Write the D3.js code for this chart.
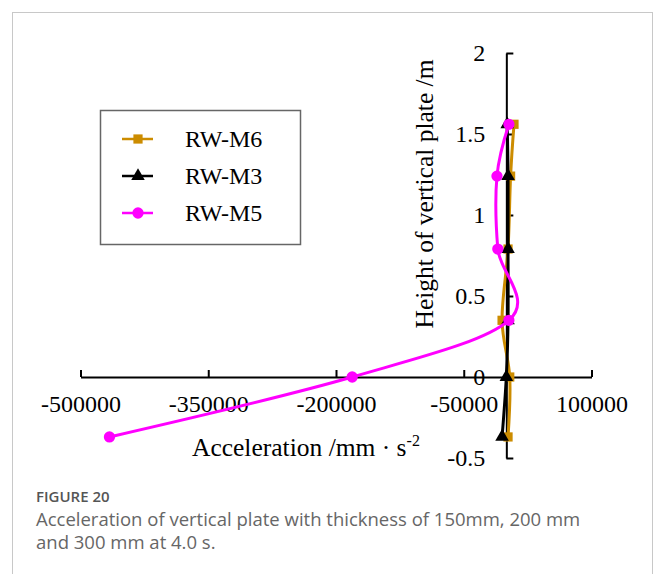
<!DOCTYPE html>
<html>
<head>
<meta charset="utf-8">
<script src="https://cdn.jsdelivr.net/npm/d3@7"></script>
<style>
  html, body { margin: 0; padding: 0; background: #fff; }
  svg { display: block; }
</style>
</head>
<body>
<script>
// ---- data ----
const heights = [-0.37, 0, 0.35, 0.79, 1.24, 1.56];
const seriesNames = ["RW-M6", "RW-M3", "RW-M5"];
const valuesM6 = [2000, 4000, -5000, 2000, 5000, 9000];
const valuesM3 = [-5000, 0, 2000, 2000, 2000, 1000];
const valuesM5 = [-466000, -181000, 3000, -10000, -11000, 3000];
const xTicks = [-500000, -350000, -200000, -50000, 100000];
const yTicks = [-0.5, 0, 0.5, 1, 1.5, 2];
const xTitle = "Acceleration /mm · s";
const xTitleSup = "-2";
const yTitle = "Height of vertical plate /m";
const captionHead = "FIGURE 20";
const captionLines = ["Acceleration of vertical plate with thickness of 150mm, 200 mm", "and 300 mm at 4.0 s."];

const W = 656, H = 574;
const svg = d3.select("body").append("svg").attr("width", W).attr("height", H);
svg.append("rect").attr("width", W).attr("height", H).attr("fill", "#fff");
// outer frame
svg.append("rect").attr("x", 12.5).attr("y", 12.5).attr("width", 640).attr("height", 600)
  .attr("fill", "none").attr("stroke", "#c8c8c8").attr("stroke-width", 1);

const x = d3.scaleLinear().domain([-500000, 100000]).range([80.5, 591.5]);
const y = d3.scaleLinear().domain([-0.5, 2]).range([458, 53]);
const serif = "'Liberation Serif','Times New Roman',serif";
const fs = 24;
const fsTitle = 25.5;

// x axis at y=0
const xAxis = d3.axisBottom(x).tickValues(xTicks).tickFormat(d => String(d))
  .tickSizeInner(-7).tickSizeOuter(0).tickPadding(18);
const gx = svg.append("g").attr("transform", `translate(0,${y(0)})`).call(xAxis);
// y axis at x=0
const yAxis = d3.axisLeft(y).tickValues(yTicks).tickFormat(d => String(d))
  .tickSizeInner(-7).tickSizeOuter(0).tickPadding(21);
const gy = svg.append("g").attr("transform", `translate(${x(0)},0)`).call(yAxis);
[gx, gy].forEach(g => {
  g.selectAll("path,line").attr("stroke", "#000").attr("stroke-width", 2);
  g.selectAll("text").attr("font-family", serif).attr("font-size", fs).attr("fill", "#000");
});

// axis titles
const xt = svg.append("text").attr("x", 192).attr("y", 456)
  .attr("font-family", serif).attr("font-size", fsTitle).attr("fill", "#000");
xt.append("tspan").text(xTitle);
xt.append("tspan").attr("dy", -10).attr("font-size", 16).text(xTitleSup);
svg.append("text").attr("transform", `translate(433,194) rotate(-90)`)
  .attr("text-anchor", "middle").attr("font-family", serif).attr("font-size", fsTitle)
  .attr("fill", "#000").text(yTitle);

// series
const colors = ["#CC8C00", "#000000", "#FF00FF"];
const allValues = [valuesM6, valuesM3, valuesM5];
const shapes = [d3.symbolSquare, d3.symbolTriangle, d3.symbolCircle];
const sizes = [85, 80, 100];
const line = d3.line().x(d => x(d[0])).y(d => y(d[1])).curve(d3.curveCardinal.tension(0));

allValues.forEach((vals, i) => {
  const pts = vals.map((v, j) => [v, heights[j]]);
  const g = svg.append("g");
  g.append("path").attr("d", line(pts)).attr("fill", "none")
    .attr("stroke", colors[i]).attr("stroke-width", 3);
  g.selectAll("path.m").data(pts).join("path").attr("class", "m")
    .attr("transform", d => `translate(${x(d[0])},${y(d[1])})`)
    .attr("d", d3.symbol().type(shapes[i]).size(sizes[i]))
    .attr("fill", colors[i]);
});

// legend
const lg = svg.append("g");
lg.append("rect").attr("x", 100.5).attr("y", 110.5).attr("width", 200).attr("height", 134)
  .attr("fill", "#fff").attr("stroke", "#666").attr("stroke-width", 1.5);
const rowsY = [139, 176, 213];
seriesNames.forEach((n, i) => {
  lg.append("line").attr("x1", 122).attr("x2", 153).attr("y1", rowsY[i]).attr("y2", rowsY[i])
    .attr("stroke", colors[i]).attr("stroke-width", 2.5);
  lg.append("path").attr("transform", `translate(138,${rowsY[i]})`)
    .attr("d", d3.symbol().type(shapes[i]).size(sizes[i])).attr("fill", colors[i]);
  lg.append("text").attr("x", 185).attr("y", rowsY[i]).attr("dy", "0.35em")
    .attr("font-family", serif).attr("font-size", fs).attr("fill", "#000").text(n);
});

// caption
const sans = "'Open Sans','Noto Sans',sans-serif";
svg.append("text").attr("x", 36).attr("y", 502).attr("font-family", sans)
  .attr("font-size", 15).attr("font-weight", 600).attr("fill", "#555").text(captionHead);
captionLines.forEach((t, i) => {
  svg.append("text").attr("x", 36).attr("y", 526 + i * 23).attr("font-family", sans)
    .attr("font-size", 18.5).attr("fill", "#666").text(t);
});
</script>
</body>
</html>
